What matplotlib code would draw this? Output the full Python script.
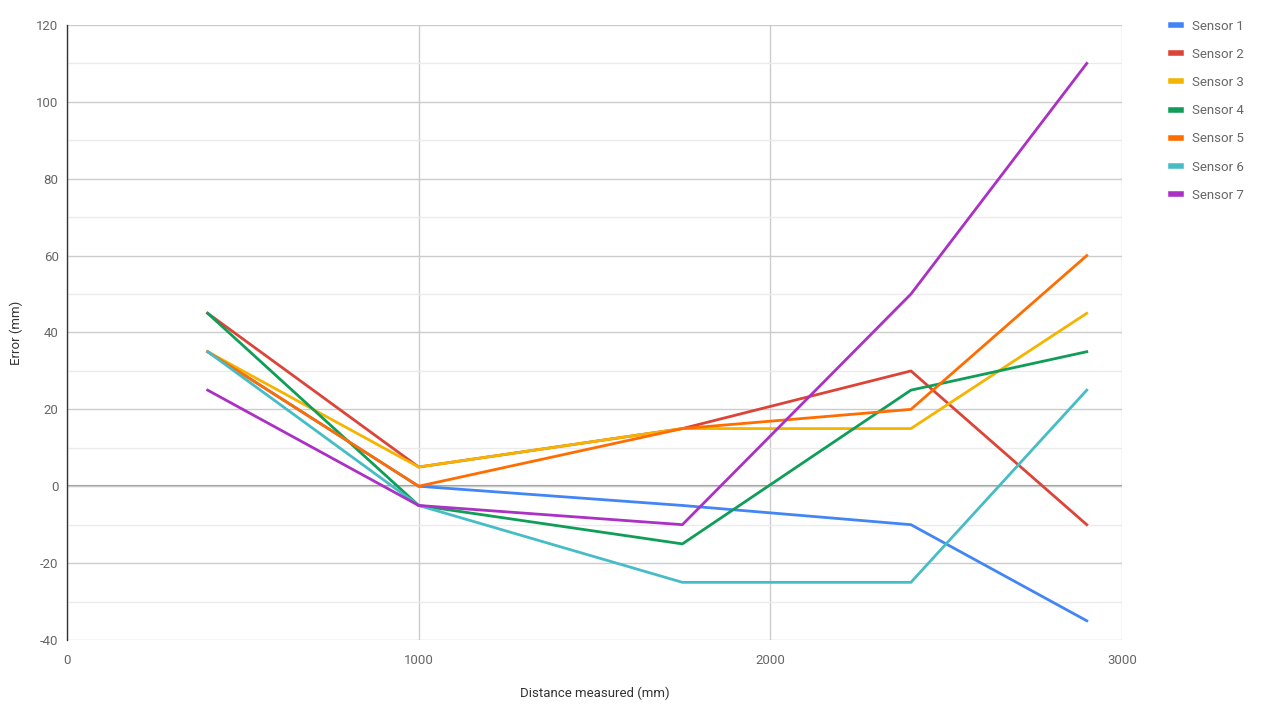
import numpy as np
import matplotlib
matplotlib.use('Agg')
import matplotlib.pyplot as plt
from matplotlib.ticker import MultipleLocator

plt.rcParams['font.family'] = ['Roboto', 'DejaVu Sans']
plt.rcParams['axes.unicode_minus'] = False

# distances measured (mm)
distance = [400, 1000, 1750, 2400, 2900]

# error per sensor (mm)
sensor_1 = [35, 0, -5, -10, -35]
sensor_2 = [45, 5, 15, 30, -10]
sensor_3 = [35, 5, 15, 15, 45]
sensor_4 = [45, -5, -15, 25, 35]
sensor_5 = [35, 0, 15, 20, 60]
sensor_6 = [35, -5, -25, -25, 25]
sensor_7 = [25, -5, -10, 50, 110]

names = ['Sensor 1', 'Sensor 2', 'Sensor 3', 'Sensor 4', 'Sensor 5', 'Sensor 6', 'Sensor 7']
colors = ['#4285f4', '#db4437', '#f4b400', '#0f9d58', '#ff6d00', '#46bdc6', '#ab30c4']
series = [sensor_1, sensor_2, sensor_3, sensor_4, sensor_5, sensor_6, sensor_7]

fig = plt.figure(figsize=(12.62, 7.06), dpi=100)
ax = fig.add_axes([0.0531, 0.0935, 0.8359, 0.8711])

for name, col, vals in zip(names, colors, series):
    ax.plot(distance, vals, color=col, lw=2, label=name, zorder=3)

ax.set_xlim(0, 3000)
ax.set_ylim(-40, 120)
ax.xaxis.set_major_locator(MultipleLocator(1000))
ax.yaxis.set_major_locator(MultipleLocator(20))
ax.yaxis.set_minor_locator(MultipleLocator(10))

ax.grid(which='major', axis='both', color='#cccccc', lw=1, zorder=0)
ax.grid(which='minor', axis='y', color='#ebebeb', lw=1, zorder=0)
ax.axhline(0, color='#999999', lw=1.5, zorder=1)

for s in ['top', 'right', 'bottom']:
    ax.spines[s].set_visible(False)
ax.spines['left'].set_color('#333333')
ax.spines['left'].set_linewidth(1)

ax.tick_params(axis='both', which='both', length=0, labelsize=9.5, labelcolor='#666666')
ax.tick_params(axis='x', pad=10)
ax.tick_params(axis='y', pad=6)

ax.set_xlabel('Distance measured (mm)', fontsize=9.5, color='#333333', labelpad=14)
ax.set_ylabel('Error (mm)', fontsize=9.5, color='#333333')
ax.yaxis.set_label_coords(-0.042, 0.5)

leg = ax.legend(loc='upper left', bbox_to_anchor=(1.035, 1.028), frameon=False,
                fontsize=9.5, handlelength=0.8, handletextpad=0.8, labelspacing=1.15)
for t in leg.get_texts():
    t.set_color('#666666')
for h in leg.get_lines():
    h.set_linewidth(4)

fig.savefig('out.png', dpi=100)
